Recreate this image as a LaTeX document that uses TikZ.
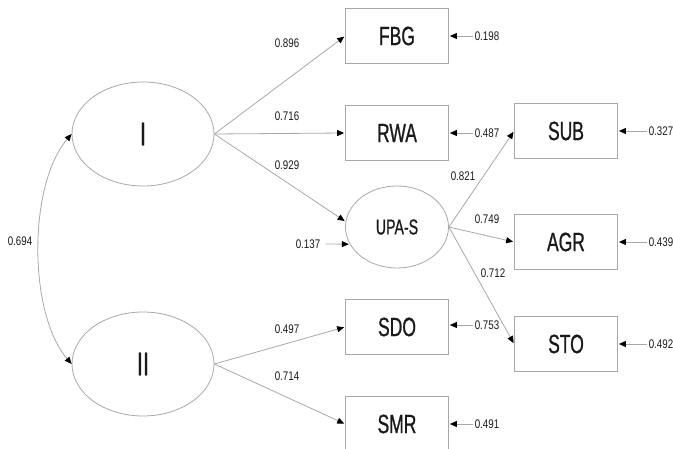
\documentclass[tikz,border=0pt]{standalone}
\usepackage{fontspec}
\setmainfont{Liberation Sans}[FakeStretch=0.78]
\newfontfamily\boxfont{Liberation Sans}[FakeStretch=0.66,FakeBold=0.8]
\usetikzlibrary{arrows.meta,shapes.geometric}
\definecolor{linegray}{HTML}{A8A8A8}
\definecolor{txt}{HTML}{1A1A1A}
\begin{document}
\begin{tikzpicture}[x=1pt,y=-1pt,
  obs/.style={draw=linegray, line width=0.8pt, minimum width=103pt, minimum height=55pt, inner sep=0pt, text=txt, font=\boxfont\fontsize{26.5}{26.5}\selectfont},
  lat/.style={ellipse, draw=linegray, line width=0.8pt, inner sep=0pt, text=txt},
  lbl/.style={inner sep=0pt, text=txt, font=\fontsize{12.5}{12.5}\selectfont},
  arr/.style={draw=linegray, line width=0.8pt, -{Triangle[length=7pt,width=6pt,color=black]}, shorten >=1pt},
  darr/.style={draw=linegray, line width=0.8pt, {Triangle[length=7pt,width=6pt,color=black]}-{Triangle[length=7pt,width=6pt,color=black]}}
]
\useasboundingbox (0,0) rectangle (673,449);
% latent variables
\node[lat, minimum width=142pt, minimum height=104pt, font=\boxfont\fontsize{33}{33}\selectfont] (I) at (143,134) {I};
\node[lat, minimum width=142pt, minimum height=104pt, font=\boxfont\fontsize{33}{33}\selectfont] (II) at (143,364) {II};
\node[lat, minimum width=103pt, minimum height=82pt, font=\boxfont\fontsize{21.5}{21.5}\selectfont] (UPA) at (397,227) {UPA-S};
% observed variables
\node[obs] (FBG) at (397,36) {FBG};
\node[obs] (RWA) at (397,133) {RWA};
\node[obs] (SDO) at (397,327) {SDO};
\node[obs] (SMR) at (397,424) {SMR};
\node[obs] (SUB) at (566,131) {SUB};
\node[obs] (AGR) at (566,242) {AGR};
\node[obs] (STO) at (566,344) {STO};
% loadings
\draw[arr] (I.east) -- (FBG.west);
\draw[arr] (I.east) -- (RWA.west);
\draw[arr] (I.east) -- (UPA.174);
\draw[arr] (II.east) -- (SDO.west);
\draw[arr] (II.east) -- (SMR.west);
\draw[arr] (UPA.east) -- (SUB.west);
\draw[arr] (UPA.east) -- (AGR.west);
\draw[arr] (UPA.east) -- (STO.west);
\node[lbl] (l1) at (287,43) {0.896};
\node[lbl] (l2) at (287,116) {0.716};
\node[lbl] (l3) at (287,165) {0.929};
\node[lbl] (l4) at (287,329) {0.497};
\node[lbl] (l5) at (287,376) {0.714};
\node[lbl] (l6) at (463,176) {0.821};
\node[lbl] (l7) at (487,219) {0.749};
\node[lbl] (l8) at (493,273) {0.712};
% covariance
\draw[darr] (I.west) .. controls (28,185) and (28,313) .. (II.west);
\node[lbl] (cov) at (20,241) {0.694};
% error terms
\node[lbl] (eFBG) at (487,36) {0.198};
\node[lbl] (eRWA) at (487,133) {0.487};
\node[lbl] (eSDO) at (487,325) {0.753};
\node[lbl] (eSMR) at (487,424) {0.491};
\node[lbl] (eSUB) at (661,131) {0.327};
\node[lbl] (eAGR) at (661,242) {0.439};
\node[lbl] (eSTO) at (661,344) {0.492};
\node[lbl] (eUPA) at (308,244) {0.137};
\draw[arr] ([xshift=-2pt]eFBG.west) -- (FBG.east);
\draw[arr] ([xshift=-2pt]eRWA.west) -- (RWA.east);
\draw[arr] ([xshift=-2pt]eSDO.west) -- (SDO.east |- eSDO);
\draw[arr] ([xshift=-2pt]eSMR.west) -- (SMR.east);
\draw[arr] ([xshift=-2pt]eSUB.west) -- (SUB.east);
\draw[arr] ([xshift=-2pt]eAGR.west) -- (AGR.east);
\draw[arr] ([xshift=-2pt]eSTO.west) -- (STO.east);
\draw[arr] ([xshift=5pt]eUPA.east) -- (UPA.200);
\end{tikzpicture}
\end{document}
